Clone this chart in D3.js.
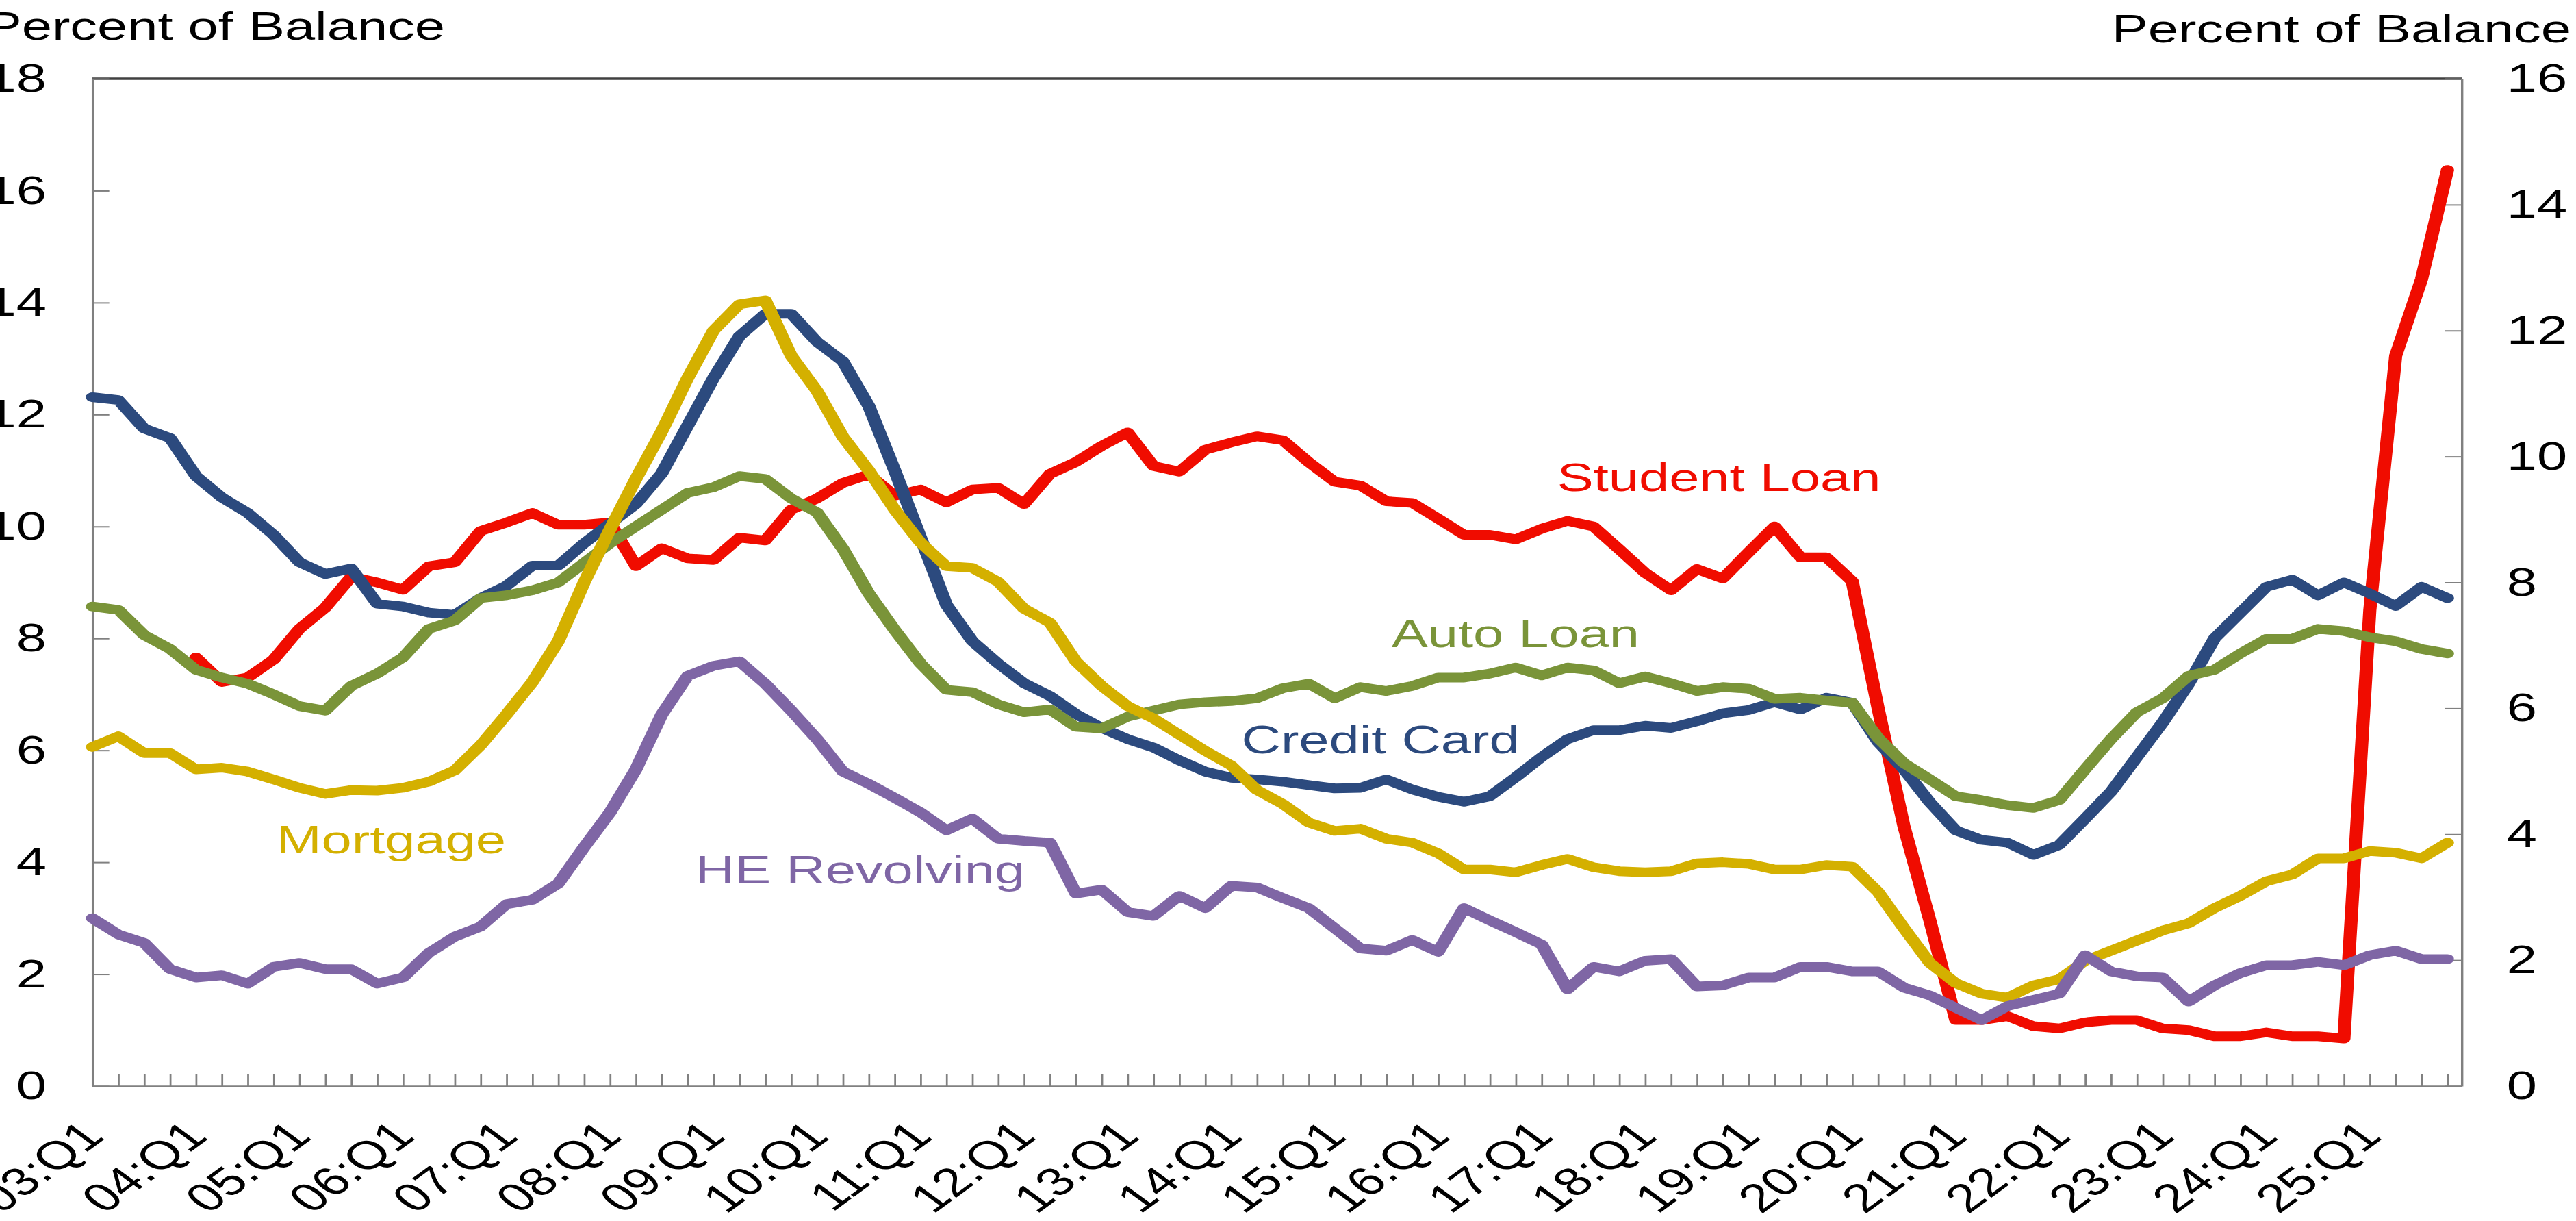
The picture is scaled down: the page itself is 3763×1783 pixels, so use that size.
<!DOCTYPE html>
<html>
<head>
<meta charset="utf-8">
<script src="https://cdn.jsdelivr.net/npm/d3@7"></script>
<style>
  body { margin: 0; background: #ffffff; }
  svg { display: block; background: #ffffff; }
</style>
</head>
<body>
<svg id="chart" width="3763" height="1783"></svg>
<script>
/* global d3 */

// ---------------- datos ----------------
var years = ["03","04","05","06","07","08","09","10","11","12","13","14",
             "15","16","17","18","19","20","21","22","23","24","25"];
var quarterNames = ["Q1","Q2","Q3","Q4"];
var tickLabels = ["03:Q1","04:Q1","05:Q1","06:Q1","07:Q1","08:Q1","09:Q1","10:Q1",
                  "11:Q1","12:Q1","13:Q1","14:Q1","15:Q1","16:Q1","17:Q1","18:Q1",
                  "19:Q1","20:Q1","21:Q1","22:Q1","23:Q1","24:Q1","25:Q1"];
var leftTicks  = [0, 2, 4, 6, 8, 10, 12, 14, 16, 18];
var rightTicks = [0, 2, 4, 6, 8, 10, 12, 14, 16];

// categorias trimestrales 03:Q1 ... 25:Q4
var quarters = [];
years.forEach(function (y) {
  quarterNames.forEach(function (q) { quarters.push(y + ":" + q); });
});

var creditCard = [12.31,12.26,11.75,11.58,10.9,10.52,10.24,9.85,9.36,9.15,
  9.25,8.62,8.57,8.46,8.42,8.72,8.94,9.3,9.3,9.7,
  10.05,10.4,10.95,11.8,12.65,13.4,13.8,13.8,13.3,12.95,
  12.15,11.0,9.8,8.6,7.95,7.55,7.2,6.97,6.65,6.4,
  6.2,6.05,5.82,5.62,5.51,5.48,5.44,5.38,5.32,5.33,
  5.48,5.3,5.17,5.08,5.18,5.52,5.88,6.2,6.36,6.36,
  6.44,6.4,6.52,6.66,6.72,6.86,6.73,6.94,6.85,6.15,
  5.66,5.07,4.57,4.4,4.35,4.13,4.31,4.78,5.26,5.88,
  6.5,7.19,8.0,8.46,8.92,9.05,8.77,9.0,8.8,8.58,
  8.92,8.72];

var autoLoan = [8.57,8.51,8.06,7.81,7.44,7.3,7.19,7.0,6.79,6.71,
  7.15,7.37,7.66,8.17,8.32,8.72,8.77,8.86,9.0,9.35,
  9.7,10.0,10.3,10.6,10.7,10.9,10.85,10.5,10.25,9.6,
  8.8,8.15,7.55,7.08,7.04,6.82,6.68,6.73,6.42,6.39,
  6.6,6.71,6.82,6.86,6.88,6.93,7.11,7.19,6.93,7.13,
  7.06,7.15,7.3,7.3,7.37,7.48,7.34,7.48,7.43,7.2,
  7.32,7.2,7.06,7.13,7.1,6.92,6.94,6.89,6.85,6.22,
  5.77,5.48,5.18,5.11,5.02,4.97,5.11,5.66,6.2,6.68,
  6.93,7.33,7.44,7.73,7.99,7.99,8.17,8.13,8.02,7.95,
  7.81,7.73];

var mortgage = [6.06,6.25,5.95,5.95,5.66,5.69,5.62,5.48,5.33,5.22,
  5.29,5.28,5.33,5.44,5.64,6.09,6.64,7.22,7.95,9.0,
  9.95,10.85,11.7,12.65,13.5,13.97,14.04,13.05,12.42,11.6,
  11.0,10.3,9.71,9.29,9.26,9.01,8.53,8.28,7.59,7.15,
  6.79,6.57,6.28,5.99,5.73,5.29,5.04,4.71,4.56,4.6,
  4.42,4.35,4.16,3.87,3.87,3.82,3.95,4.06,3.91,3.84,
  3.82,3.84,3.98,4.0,3.97,3.87,3.87,3.95,3.92,3.47,
  2.82,2.2,1.84,1.65,1.58,1.8,1.91,2.24,2.42,2.6,
  2.78,2.91,3.18,3.4,3.66,3.78,4.07,4.07,4.2,4.17,
  4.07,4.35];

var heRevolving = [3.0,2.71,2.56,2.09,1.94,1.98,1.83,2.13,2.2,2.09,
  2.09,1.83,1.94,2.38,2.67,2.85,3.25,3.33,3.62,4.27,
  4.89,5.66,6.64,7.33,7.51,7.59,7.19,6.71,6.2,5.62,
  5.4,5.15,4.89,4.57,4.78,4.42,4.38,4.35,3.44,3.51,
  3.11,3.04,3.4,3.18,3.58,3.55,3.36,3.18,2.82,2.46,
  2.42,2.61,2.4,3.18,2.96,2.75,2.53,1.73,2.13,2.05,
  2.24,2.27,1.78,1.8,1.94,1.94,2.13,2.13,2.05,2.05,
  1.76,1.62,1.4,1.18,1.43,1.54,1.65,2.34,2.05,1.96,
  1.94,1.51,1.8,2.02,2.16,2.16,2.22,2.16,2.34,2.42,
  2.27,2.27];

var studentLoan = [null,null,null,null,7.66,7.22,7.3,7.62,8.17,8.55,
  9.1,9.0,8.87,9.29,9.36,9.92,10.07,10.24,10.03,10.03,
  10.07,9.29,9.61,9.43,9.4,9.8,9.75,10.3,10.5,10.78,
  10.93,10.55,10.66,10.43,10.66,10.69,10.4,10.94,11.15,11.44,
  11.68,11.08,10.98,11.37,11.5,11.61,11.54,11.15,10.8,10.73,
  10.45,10.42,10.14,9.85,9.85,9.77,9.96,10.1,10.0,9.59,
  9.17,8.86,9.24,9.07,9.54,10.0,9.45,9.45,9.02,6.75,
  4.64,2.96,1.18,1.18,1.25,1.07,1.03,1.14,1.18,1.18,
  1.03,1.0,0.89,0.89,0.96,0.89,0.89,0.85,8.5,13.05,
  14.42,16.37];

// series en orden de dibujo (la ultima queda encima)
var series = [
  {name: "Student Loan", values: studentLoan, color: "#f00c00"},
  {name: "Credit Card",  values: creditCard,  color: "#2c4a7e"},
  {name: "Auto Loan",    values: autoLoan,    color: "#7a9439"},
  {name: "Mortgage",     values: mortgage,    color: "#d4b000"},
  {name: "HE Revolving", values: heRevolving, color: "#7f66a5"}
];

// etiquetas dentro del grafico, ancladas en unidades del grafico (trimestre, valor)
var labels = [
  {name: "Student Loan", q: 56.6, v: 10.63},
  {name: "Auto Loan",    q: 50.2, v: 7.84},
  {name: "Credit Card",  q: 44.4, v: 5.95},
  {name: "Mortgage",     q: 7.1,  v: 4.16},
  {name: "HE Revolving", q: 23.3, v: 3.62}
];

// ---------------- dibujo ----------------
var SX = 1.37;                                   // el grafico original esta estirado en horizontal
var FONT = "'Liberation Sans', Arial, Helvetica, sans-serif";
var plotLeft = 135, plotRight = 3596, plotTop = 115, plotBottom = 1586;

var svg = d3.select("#chart");
var g = svg.append("g").attr("transform", "scale(" + SX + ",1)");

var x = d3.scaleLinear().domain([0, 91.55]).range([plotLeft / SX, plotRight / SX]);
var yL = d3.scaleLinear().domain([0, 18]).range([plotBottom, plotTop]);
var yR = d3.scaleLinear().domain([0, 16]).range([plotBottom, plotTop]);

// borde superior oscuro del area de trazado
g.append("line")
  .attr("x1", plotLeft / SX).attr("x2", plotRight / SX)
  .attr("y1", plotTop).attr("y2", plotTop)
  .attr("stroke", "#404040").attr("stroke-width", 3.5);

function styleAxis(sel) {
  sel.attr("font-size", 58).attr("font-family", FONT).attr("color", "#808080");
  sel.select(".domain").attr("stroke-width", 2.5);
  sel.selectAll(".tick line").attr("stroke-width", 2);
  sel.selectAll("text").attr("fill", "#000");
}

// eje izquierdo
g.append("g")
  .attr("transform", "translate(" + plotLeft / SX + ",0)")
  .call(d3.axisLeft(yL).tickValues(leftTicks).tickSize(-18).tickSizeOuter(0).tickPadding(49))
  .call(styleAxis);

// eje derecho
g.append("g")
  .attr("transform", "translate(" + plotRight / SX + ",0)")
  .call(d3.axisRight(yR).tickValues(rightTicks).tickSize(-18).tickSizeOuter(0).tickPadding(48))
  .call(styleAxis);

// eje inferior: marca cada trimestre, rotulo cada Q1
var xAxis = g.append("g")
  .attr("transform", "translate(0," + plotBottom + ")")
  .call(d3.axisBottom(x)
    .tickValues(d3.range(quarters.length))
    .tickSize(-18).tickSizeOuter(0)
    .tickFormat(function (i) { return tickLabels.indexOf(quarters[i]) >= 0 ? quarters[i] : ""; }))
  .call(styleAxis);

xAxis.selectAll("text")
  .attr("y", 0).attr("dy", 0)
  .attr("transform", "translate(14,76) rotate(-45)")
  .attr("text-anchor", "end");

// lineas
var line = d3.line()
  .defined(function (d) { return d != null; })
  .x(function (d, i) { return x(i); })
  .y(function (d) { return yL(d); });

g.selectAll(".serie")
  .data(series)
  .enter().append("path")
  .attr("class", "serie")
  .attr("d", function (s) { return line(s.values); })
  .attr("fill", "none")
  .attr("stroke", function (s) { return s.color; })
  .attr("stroke-width", 14)
  .attr("stroke-linejoin", "round")
  .attr("stroke-linecap", "round");

// rotulos de las series
var colorOf = {};
series.forEach(function (s) { colorOf[s.name] = s.color; });

g.selectAll(".rotulo")
  .data(labels)
  .enter().append("text")
  .attr("class", "rotulo")
  .attr("x", function (d) { return x(d.q); })
  .attr("y", function (d) { return yL(d.v); })
  .attr("font-family", FONT).attr("font-size", 58)
  .attr("fill", function (d) { return colorOf[d.name]; })
  .text(function (d) { return d.name; });

// titulos de los ejes
g.append("text")
  .attr("x", 650 / SX).attr("y", 58)
  .attr("text-anchor", "end")
  .attr("font-family", FONT).attr("font-size", 58).attr("fill", "#000")
  .text("Percent of Balance");

g.append("text")
  .attr("x", 3756 / SX).attr("y", 62)
  .attr("text-anchor", "end")
  .attr("font-family", FONT).attr("font-size", 58).attr("fill", "#000")
  .text("Percent of Balance");
</script>
</body>
</html>
